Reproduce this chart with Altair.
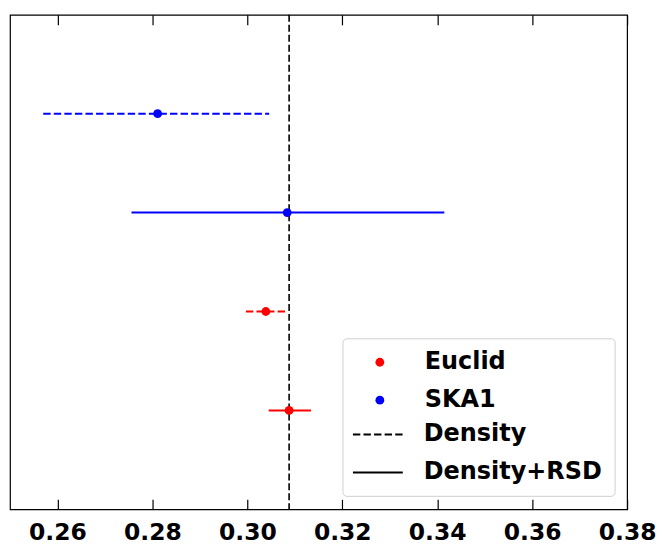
import altair as alt
import pandas as pd

survey = ["SKA1", "SKA1", "Euclid", "Euclid"]
kind = ["Density", "Density+RSD", "Density", "Density+RSD"]
row = [4, 3, 2, 1]
center = [0.2811, 0.3084, 0.3039, 0.3088]
lower = [0.2570, 0.2756, 0.2997, 0.3045]
upper = [0.3046, 0.3415, 0.3081, 0.3134]
fiducial = [0.3088]
xticks = [0.26, 0.28, 0.30, 0.32, 0.34, 0.36, 0.38]

df = pd.DataFrame(dict(survey=survey, kind=kind, row=row, center=center,
                       lower=lower, upper=upper))
ref = pd.DataFrame(dict(x=fiducial))

FONT = "DejaVu Sans"
xscale = alt.Scale(domain=[0.25, 0.38], nice=False, zero=False)
yscale = alt.Scale(domain=[0, 5], nice=False, zero=False)
color_scale = alt.Scale(domain=["Euclid", "SKA1"], range=["#ff0000", "#0000ff"])
dash_scale = alt.Scale(domain=["Density", "Density+RSD"], range=[[7.4, 3.2], [1, 0]])

bottom_axis = alt.Axis(orient="bottom", values=xticks, format=".2f", offset=-10,
                       tickSize=10, tickColor="black", tickWidth=1.2, domain=False,
                       grid=False, labelFont=FONT, labelFontWeight="bold",
                       labelFontSize=23.5, labelColor="black", labelPadding=11,
                       title=None, labelFlush=False, labelOverlap=False)
top_axis = alt.Axis(orient="top", values=xticks, offset=-10, tickSize=10,
                    tickColor="black", tickWidth=1.2, domain=False, grid=False,
                    labels=False, title=None)

color_legend = alt.Legend(title=None, orient="none", legendX=359, legendY=336.5,
                          symbolType="circle", symbolSize=78, symbolStrokeWidth=0,
                          symbolOpacity=1, labelFont=FONT, labelFontSize=24,
                          labelFontWeight="bold", labelColor="black", labelLimit=0,
                          labelOffset=33, rowPadding=14, padding=0)
dash_legend = alt.Legend(title=None, orient="none", legendX=343, legendY=395,
                         symbolType="stroke", symbolSize=2500,
                         symbolStrokeColor="black", symbolStrokeWidth=2,
                         labelFont=FONT, labelFontSize=24, labelFontWeight="bold",
                         labelColor="black", labelOffset=20, rowPadding=-8.5,
                         labelLimit=0, padding=0)

vline = alt.Chart(ref).mark_rule(color="black", strokeWidth=1.6,
                                 strokeDash=[7, 3]).encode(
    x=alt.X("x:Q", scale=xscale, axis=top_axis)
)

bars = alt.Chart(df).mark_rule(strokeWidth=2).encode(
    x=alt.X("lower:Q", scale=xscale, axis=bottom_axis),
    x2="upper:Q",
    y=alt.Y("row:Q", scale=yscale, axis=None),
    color=alt.Color("survey:N", scale=color_scale, legend=color_legend),
    strokeDash=alt.StrokeDash("kind:N", scale=dash_scale, legend=dash_legend),
)

points = alt.Chart(df).mark_circle(size=78, opacity=1).encode(
    x=alt.X("center:Q", scale=xscale, axis=None),
    y=alt.Y("row:Q", scale=yscale, axis=None),
    color=alt.Color("survey:N", scale=color_scale, legend=color_legend),
)

box = alt.Chart(pd.DataFrame({"a": [0]})).mark_rect(
    fill="white", fillOpacity=0.8, stroke="#d0d0d0", strokeWidth=1, cornerRadius=4
).encode(
    x=alt.value(334), x2=alt.value(607), y=alt.value(325), y2=alt.value(483)
)

chart = alt.layer(box, vline, bars, points).resolve_axis(x="independent").properties(
    width=619, height=496, background="white",
    padding={"left": 2, "top": 5, "right": 0, "bottom": 5},
).configure_view(stroke="black", strokeWidth=1.2)

chart.save("out.html", embed_options={"renderer": "svg", "actions": False})
